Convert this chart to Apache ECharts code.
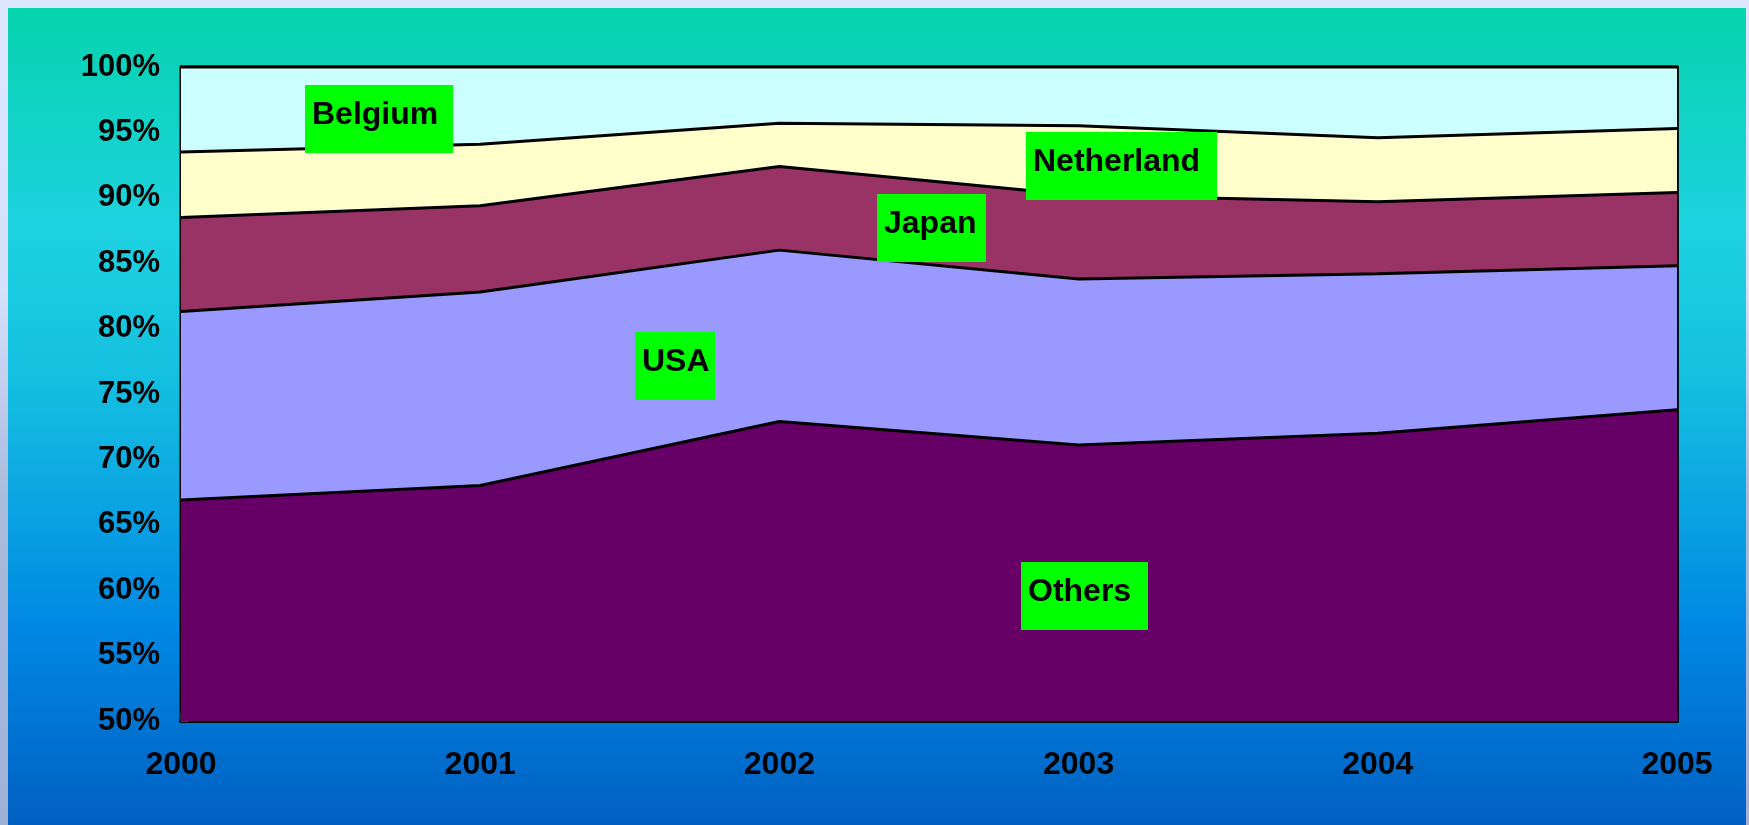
<!DOCTYPE html>
<html>
<head>
<meta charset="utf-8">
<title>Share by country 2000-2005</title>
<script src="https://cdn.jsdelivr.net/npm/echarts@6/dist/echarts.min.js"></script>
<style>
    html, body {
        margin: 0;
        padding: 0;
        width: 1749px;
        height: 825px;
        overflow: hidden;
        background: linear-gradient(to bottom, #dde6ff 0%, #d6e0fb 35%, #aabbdd 60%, #9fb2d6 100%);
    }
    .panel {
        position: absolute;
        left: 8px;
        top: 8px;
        width: 1738px;
        height: 817px;
        background: linear-gradient(to bottom, #05d3ad 0%, #1ed2e0 27%, #14c0e0 45%, #0aa2e2 62%, #0088e4 76%, #0060c2 100%);
    }
    #chart {
        position: absolute;
        left: 0;
        top: 0;
        width: 1749px;
        height: 825px;
    }
</style>
</head>
<body>
<div class="panel"></div>
<div id="chart"></div>
<script>
// years on the x axis
const years = ['2000', '2001', '2002', '2003', '2004', '2005'];
// share of each country, in percent (stacked to 100)
const others     = [66.9, 68.0, 72.9, 71.1, 72.0, 73.8];
const usa        = [14.4, 14.8, 13.1, 12.7, 12.2, 11.0];
const japan      = [7.2, 6.6, 6.4, 6.4, 5.5, 5.6];
const netherland = [5.0, 4.7, 3.3, 5.3, 4.9, 4.9];
const belgium    = [6.5, 5.9, 4.3, 4.5, 5.4, 4.7];
const seriesNames = ['Others', 'USA', 'Japan', 'Netherland', 'Belgium'];

const FONT = '"Liberation Sans", Arial, sans-serif';
const colors = ['#660066', '#9999ff', '#993366', '#ffffcc', '#ccffff'];

// green label boxes: [name, left, top, width]
const boxes = [
    ['Belgium', 305, 85, 148],
    ['USA', 635, 332, 80],
    ['Japan', 877, 194, 109],
    ['Netherland', 1026, 132, 191],
    ['Others', 1021, 562, 127]
];

function makeBoxes() {
    const out = [];
    boxes.forEach(function (b) {
        out.push({
            type: 'rect',
            shape: { x: b[1], y: b[2], width: b[3], height: 68 },
            style: { fill: '#00ff00' },
            z: 100
        });
        out.push({
            type: 'text',
            x: b[1] + 7,
            y: b[2] + 30,
            style: {
                text: b[0],
                fill: '#000',
                font: 'bold 32px ' + FONT,
                verticalAlign: 'middle',
                align: 'left'
            },
            z: 101
        });
    });
    return out;
}

var myChart = echarts.init(document.getElementById('chart'));

const allData = [others, usa, japan, netherland, belgium];

myChart.setOption({
    animation: false,
    backgroundColor: 'transparent',
    grid: {
        left: 181,
        right: 72,
        top: 67,
        bottom: 104,
        show: true,
        borderColor: '#000',
        borderWidth: 3,
        backgroundColor: 'transparent'
    },
    xAxis: {
        type: 'category',
        data: years,
        boundaryGap: false,
        axisLine: { lineStyle: { color: '#000', width: 3 } },
        axisTick: { inside: true, length: 8, lineStyle: { color: '#333', width: 1.5 } },
        axisLabel: {
            color: '#000',
            fontFamily: FONT,
            fontWeight: 'bold',
            fontSize: 32,
            margin: 28
        },
        splitLine: { show: false }
    },
    yAxis: [
        {
            type: 'value',
            min: 50,
            max: 100,
            interval: 5,
            axisLine: { show: true, lineStyle: { color: '#000', width: 2.5 } },
            axisTick: { show: true, inside: true, length: 8, lineStyle: { color: '#555', width: 1.5 } },
            axisLabel: {
                formatter: '{value}%',
                color: '#000',
                fontFamily: FONT,
                fontWeight: 'bold',
                fontSize: 31,
                margin: 21
            },
            splitLine: { show: false }
        },
        {
            type: 'value',
            position: 'right',
            min: 50,
            max: 100,
            interval: 5,
            axisLine: { show: true, lineStyle: { color: '#000', width: 2.5 } },
            axisTick: { show: false },
            axisLabel: { show: false },
            splitLine: { show: false }
        }
    ],
    series: seriesNames.map(function (name, i) {
        return {
            name: name,
            type: 'line',
            stack: 'total',
            data: allData[i],
            symbol: 'none',
            smooth: false,
            clip: false,
            lineStyle: { color: '#000', width: 3 },
            areaStyle: { color: colors[i], opacity: 1 },
            z: 2
        };
    }),
    graphic: makeBoxes()
});
</script>
</body>
</html>
